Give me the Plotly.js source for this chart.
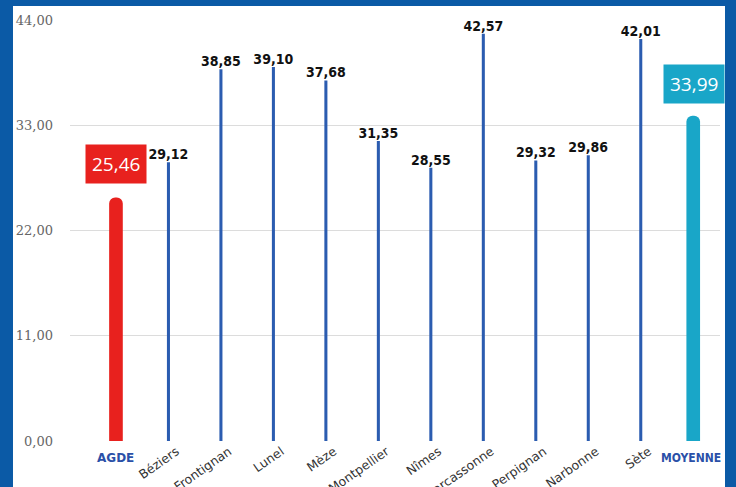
<!DOCTYPE html>
<html>
<head>
<meta charset="utf-8">
<script src="https://cdn.plot.ly/plotly-3.0.1.min.js"></script>
<style>html,body{margin:0;padding:0;background:#0b5aa6;}#chart{width:736px;height:487px;}</style>
</head>
<body>
<div id="chart"></div>
<script>
// Data
const categories = ['AGDE','Béziers','Frontignan','Lunel','Mèze','Montpellier','Nîmes','Carcassonne','Perpignan','Narbonne','Sète','MOYENNE'];
const values = [25.46, 29.12, 38.85, 39.10, 37.68, 31.35, 28.55, 42.57, 29.32, 29.86, 42.01, 33.99];
const yTicks = [0, 11, 22, 33, 44];

const cityCats = categories.slice(1, 11);
const cityVals = values.slice(1, 11);
const agdeCat = categories[0], agdeVal = values[0];
const moyCat = categories[11], moyVal = values[11];

const fmt = v => v.toFixed(2).replace('.', ',');

const traces = [
  {
    type: 'bar', x: cityCats, y: cityVals, width: 0.058,
    marker: {color: '#2b5cb0'},
    text: cityVals.map(v => '<b>' + fmt(v) + '</b>'), textposition: 'outside', cliponaxis: false,
    constraintext: 'none',
    textfont: {family: 'DejaVu Sans Condensed, DejaVu Sans', size: 14, color: '#111'},
    hoverinfo: 'skip'
  },
  {
    type: 'bar', x: [agdeCat], y: [agdeVal], width: 0.26,
    marker: {color: '#e8211e', cornerradius: 7}, hoverinfo: 'skip'
  },
  {
    type: 'bar', x: [moyCat], y: [moyVal], width: 0.26,
    marker: {color: '#19a6c8', cornerradius: 7}, hoverinfo: 'skip'
  }
];

const annotations = [
  {x: agdeCat, y: agdeVal, xref: 'x', yref: 'y', yanchor: 'bottom', yshift: 13,
   text: fmt(agdeVal), showarrow: false, bgcolor: '#e8211e', borderpad: 6,
   font: {family: 'Open Sans, DejaVu Sans', size: 19, color: '#fff'}},
  {x: moyCat, y: moyVal, xref: 'x', yref: 'y', yanchor: 'bottom', yshift: 12, xshift: 1,
   text: fmt(moyVal), showarrow: false, bgcolor: '#19a6c8', borderpad: 6,
   font: {family: 'Open Sans, DejaVu Sans', size: 19, color: '#fff'}},
  {x: agdeCat, y: 0, xref: 'x', yref: 'paper', yanchor: 'top', yshift: -8,
   text: '<b>' + agdeCat + '</b>', showarrow: false,
   font: {family: 'DejaVu Sans', size: 12, color: '#2a50a8'}},
  {x: moyCat, y: 0, xref: 'x', yref: 'paper', yanchor: 'top', yshift: -8, xshift: -2,
   text: '<b>' + moyCat + '</b>', showarrow: false,
   font: {family: 'DejaVu Sans Condensed, DejaVu Sans', size: 12, color: '#2a50a8'}}
];

const layout = {
  width: 736, height: 487,
  margin: {l: 70, r: 16, t: 20, b: 46},
  paper_bgcolor: '#0b5aa6',
  plot_bgcolor: 'rgba(0,0,0,0)',
  barmode: 'overlay',
  showlegend: false,
  separators: ', ',
  shapes: [{type: 'rect', xref: 'paper', yref: 'paper', x0: -0.0877, x1: 1.0077, y0: -0.2, y1: 1.0333,
            fillcolor: '#ffffff', line: {width: 0}, layer: 'below'}],
  xaxis: {
    type: 'category', categoryorder: 'array', categoryarray: categories,
    range: [-0.876, 11.51],
    tickvals: categories,
    ticktext: categories.map((c, i) => (i === 0 || i === 11) ? '' : c),
    tickangle: -35,
    ticklabelshift: 8,
    tickfont: {family: 'DejaVu Sans', size: 12.5, color: '#333'},
    showgrid: false, zeroline: false, showline: false, ticks: ''
  },
  yaxis: {
    range: [0, 44], tickvals: yTicks, ticktext: yTicks.map(fmt),
    tickfont: {family: 'DejaVu Serif', size: 13, color: '#666'},
    showgrid: true, gridcolor: '#dcdcdc', gridwidth: 1,
    zeroline: false, showline: false, ticks: '', ticklabelstandoff: 16
  },
  annotations: annotations
};

Plotly.newPlot('chart', traces, layout, {displayModeBar: false, staticPlot: true});
</script>
</body>
</html>
